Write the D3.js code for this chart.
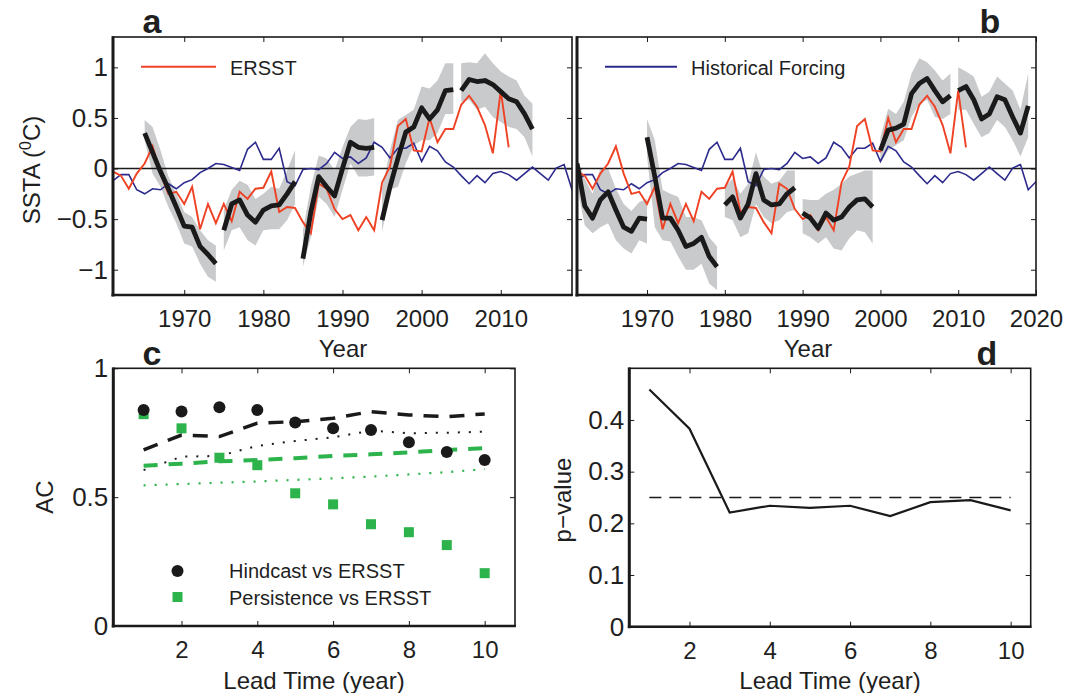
<!DOCTYPE html>
<html><head><meta charset="utf-8">
<script src="https://cdn.jsdelivr.net/npm/d3@7"></script>
<style>
body{margin:0;background:#fff}
svg{display:block}
text{font-family:"Liberation Sans",Arial,Helvetica,sans-serif;fill:#1f1f1f}
</style>
</head><body>
<svg id="fig" width="1066" height="693"></svg>
<script>
// ---------------- DATA ----------------
const firstYear = 1961;
// Historical forcing (blue), 1961-2020
const histForcing = [-0.12,-0.06,-0.06,-0.21,-0.25,-0.2,-0.21,-0.15,-0.2,-0.14,
  -0.11,-0.04,0.0,0.05,0.04,0.01,-0.02,0.19,0.26,0.09,
  0.09,0.2,-0.13,-0.17,-0.01,0.0,-0.01,0.05,0.16,0.1,
  0.115,0.05,0.105,0.26,0.21,0.105,0.2,0.2,0.25,0.07,
  0.22,0.175,0.065,0.015,-0.07,-0.15,-0.07,-0.14,-0.05,-0.03,
  -0.06,-0.115,-0.05,0.015,-0.05,-0.115,0.005,0.04,-0.21,-0.13];
// ERSST (red), 1961-2011
const ersst = [-0.03,-0.07,-0.2,-0.05,0.05,0.22,-0.05,-0.25,-0.23,-0.35,
  -0.18,-0.6,-0.35,-0.54,-0.35,-0.52,-0.23,-0.3,-0.2,-0.19,
  -0.03,-0.43,-0.38,-0.39,-0.53,-0.64,-0.15,-0.2,-0.4,-0.5,
  -0.46,-0.61,-0.48,-0.61,-0.14,0.02,0.42,0.49,0.18,0.17,
  0.5,0.26,0.39,0.39,0.63,0.72,0.61,0.43,0.15,0.77,0.21];

// Panel a hindcast segments (10 years each)
const aStarts = [1965,1975,1985,1995,2005];
const aMean = [
  [0.35,0.16,-0.03,-0.2,-0.38,-0.57,-0.58,-0.77,-0.85,-0.94],
  [-0.61,-0.35,-0.31,-0.46,-0.53,-0.41,-0.37,-0.36,-0.25,-0.13],
  [-0.89,-0.43,-0.08,-0.18,-0.27,0.0,0.26,0.21,0.2,0.21],
  [-0.51,-0.18,0.1,0.36,0.41,0.6,0.49,0.58,0.77,0.78],
  [0.77,0.88,0.86,0.87,0.83,0.76,0.69,0.66,0.54,0.39]];
const aHigh = [
  [0.48,0.41,0.18,-0.08,-0.25,-0.43,-0.48,-0.61,-0.71,-0.76],
  [-0.41,-0.21,-0.12,-0.16,-0.3,-0.25,-0.18,-0.2,-0.02,0.18],
  [-0.61,-0.18,0.13,0.1,-0.02,0.21,0.41,0.49,0.48,0.5],
  [-0.2,0.18,0.48,0.53,0.58,0.81,0.79,0.87,1.04,1.04],
  [1.04,1.05,1.04,1.14,1.04,0.96,0.91,0.87,0.72,0.64]];
const aLow = [
  [0.28,-0.05,-0.18,-0.38,-0.54,-0.74,-0.77,-0.94,-1.07,-1.12],
  [-0.81,-0.61,-0.58,-0.71,-0.76,-0.61,-0.6,-0.6,-0.51,-0.35],
  [-0.97,-0.68,-0.28,-0.35,-0.48,-0.21,0.05,-0.08,-0.08,-0.07],
  [-0.63,-0.21,-0.18,0.05,0.23,0.28,0.28,0.35,0.54,0.54],
  [0.66,0.68,0.58,0.61,0.51,0.46,0.41,0.39,0.31,0.12]];

// Panel b hindcast segments
const bStarts = [1961,1970,1980,1990,2000,2010];
const bMean = [
  [0.05,-0.37,-0.49,-0.31,-0.23,-0.41,-0.58,-0.62,-0.49,-0.5],
  [0.31,-0.08,-0.49,-0.49,-0.61,-0.77,-0.74,-0.68,-0.87,-0.97],
  [-0.36,-0.28,-0.49,-0.35,-0.05,-0.31,-0.36,-0.35,-0.25,-0.19],
  [-0.44,-0.49,-0.59,-0.44,-0.51,-0.48,-0.38,-0.31,-0.3,-0.38],
  [0.18,0.38,0.4,0.44,0.74,0.84,0.89,0.77,0.66,0.72],
  [0.77,0.81,0.68,0.49,0.54,0.71,0.68,0.51,0.35,0.62]];
const bHigh = [
  [0.1,-0.1,-0.25,0.0,0.0,-0.2,-0.35,-0.42,-0.33,-0.3],
  [0.49,0.28,-0.21,-0.25,-0.28,-0.48,-0.48,-0.51,-0.68,-0.77],
  [-0.18,-0.1,-0.25,-0.15,0.16,-0.08,-0.15,-0.12,-0.02,-0.02],
  [-0.3,-0.31,-0.31,-0.25,-0.21,-0.15,-0.08,-0.05,-0.02,-0.02],
  [0.31,0.59,0.54,0.66,0.94,1.09,1.05,0.97,0.87,0.94],
  [1.0,0.96,0.91,0.71,0.76,0.91,0.84,0.77,0.58,0.94]];
const bLow = [
  [-0.18,-0.56,-0.64,-0.58,-0.54,-0.71,-0.79,-0.84,-0.71,-0.74],
  [0.12,-0.58,-0.71,-0.72,-0.87,-1.0,-1.0,-0.94,-1.14,-1.2],
  [-0.48,-0.51,-0.68,-0.64,-0.35,-0.48,-0.54,-0.51,-0.43,-0.41],
  [-0.64,-0.68,-0.74,-0.68,-0.79,-0.81,-0.69,-0.61,-0.63,-0.74],
  [0.05,0.18,0.23,0.28,0.51,0.64,0.68,0.51,0.49,0.54],
  [0.58,0.58,0.44,0.31,0.35,0.48,0.41,0.28,0.12,0.31]];

// Panel c
const leadTimes = [1,2,3,4,5,6,7,8,9,10];
const hindcastAC = [0.838,0.832,0.849,0.838,0.79,0.767,0.761,0.713,0.675,0.644];
const persistAC = [0.822,0.767,0.653,0.624,0.515,0.472,0.395,0.364,0.314,0.205];
const hindSig95 = [0.683,0.741,0.735,0.787,0.793,0.806,0.832,0.819,0.812,0.823];
const hindSig90 = [0.605,0.657,0.66,0.699,0.718,0.732,0.758,0.748,0.75,0.754];
const persSig95 = [0.622,0.63,0.639,0.644,0.651,0.66,0.666,0.674,0.683,0.69];
const persSig90 = [0.546,0.551,0.556,0.561,0.567,0.573,0.58,0.588,0.597,0.609];
// Panel d
const pValues = [0.459,0.383,0.221,0.234,0.23,0.234,0.214,0.241,0.245,0.225];
const pThreshold = 0.25;

// tick labels
const yearTicksA = [1970,1980,1990,2000,2010];
const yearTicksB = [1970,1980,1990,2000,2010,2020];
const sstaTicks = [-1,-0.5,0,0.5,1];
const leadTicks = [2,4,6,8,10];
const acTicks = [0,0.5,1];
const pTicks = [0,0.1,0.2,0.3,0.4];

// ---------------- STYLE ----------------
const RED = "#ef4123", BLUE = "#2c2a8c", BLK = "#1a1a1a", GRAY = "#c9cacc", GREEN = "#2db34b";
const svg = d3.select("#fig");
svg.append("rect").attr("width",1066).attr("height",693).attr("fill","#fff");

const numFmt = d => (d < 0 ? "\u2212" : "") + Math.abs(d);

function frame(g, x, y, xt, yt, showX, showY) {
  const [x0,x1] = x.range(), [y0,y1] = y.range();
  const ax = g.append("g").attr("class","axes");
  const b = ax.append("g").attr("transform",`translate(0,${y0})`)
    .call(d3.axisBottom(x).tickValues(xt).tickSize(-5).tickPadding(15).tickFormat(showX ? d3.format("d") : ""));
  const t = ax.append("g").attr("transform",`translate(0,${y1})`)
    .call(d3.axisTop(x).tickValues(xt).tickSize(-5).tickFormat(""));
  const l = ax.append("g").attr("transform",`translate(${x0},0)`)
    .call(d3.axisLeft(y).tickValues(yt).tickSize(-5).tickPadding(5).tickFormat(showY ? numFmt : ""));
  const r = ax.append("g").attr("transform",`translate(${x1},0)`)
    .call(d3.axisRight(y).tickValues(yt).tickSize(-5).tickFormat(""));
  [b,t,l,r].forEach(a => {
    a.select(".domain").remove();
    a.selectAll("line").attr("stroke",BLK).attr("stroke-width",1);
    a.selectAll("text").attr("font-size",24).attr("fill","#1f1f1f")
      .attr("font-family","'Liberation Sans',Arial,sans-serif");
  });
  l.selectAll("text").attr("font-size",26);
  ax.append("rect").attr("x",x0).attr("y",y1).attr("width",x1-x0).attr("height",y0-y1)
    .attr("fill","none").attr("stroke",BLK).attr("stroke-width",1.6);
  ax.append("line").attr("x1",x0).attr("x2",x0).attr("y1",y1-0.8).attr("y2",y0+1.5)
    .attr("stroke",BLK).attr("stroke-width",3);
  ax.append("line").attr("x1",x0-1.5).attr("x2",x1+0.8).attr("y1",y0).attr("y2",y0)
    .attr("stroke",BLK).attr("stroke-width",2.6);
}

// ---------------- PANELS a & b ----------------
function timePanel(id, xRange, xDomain, starts, mean, hi, lo, xt, showY) {
  const x = d3.scaleLinear().domain(xDomain).range(xRange);
  const y = d3.scaleLinear().domain([-1.25,1.3]).range([295,37]);
  const g = svg.append("g");
  g.append("clipPath").attr("id",id).append("rect")
    .attr("x",xRange[0]).attr("y",37).attr("width",xRange[1]-xRange[0]).attr("height",258);
  const p = g.append("g").attr("clip-path",`url(#${id})`);
  const area = d3.area().x(d => x(d.yr)).y0(d => y(d.lo)).y1(d => y(d.hi));
  const line = d3.line().x(d => x(d.yr)).y(d => y(d.v));
  starts.forEach((s,k) => {
    const seg = mean[k].map((v,i) => ({yr:s+i, v, hi:hi[k][i], lo:lo[k][i]}));
    p.append("path").attr("d",area(seg)).attr("fill",GRAY);
  });
  p.append("line").attr("x1",xRange[0]).attr("x2",xRange[1]).attr("y1",y(0)).attr("y2",y(0))
    .attr("stroke",BLK).attr("stroke-width",1.5);
  p.append("path").attr("d",line(histForcing.map((v,i)=>({yr:firstYear+i,v}))))
    .attr("fill","none").attr("stroke",BLUE).attr("stroke-width",1.6);
  p.append("path").attr("d",line(ersst.map((v,i)=>({yr:firstYear+i,v}))))
    .attr("fill","none").attr("stroke",RED).attr("stroke-width",1.9);
  starts.forEach((s,k) => {
    const seg = mean[k].map((v,i) => ({yr:s+i, v}));
    p.append("path").attr("d",line(seg)).attr("fill","none").attr("stroke",BLK)
      .attr("stroke-width",4.8).attr("stroke-linejoin","round");
  });
  frame(g, x, y, xt, sstaTicks, true, showY);
  return {x,y,g};
}
const A = timePanel("clipA",[113,572],[1961,2019],aStarts,aMean,aHigh,aLow,yearTicksA,true);
const B = timePanel("clipB",[577,1036],[1961,2020],bStarts,bMean,bHigh,bLow,yearTicksB,false);

// legends a & b
svg.append("line").attr("x1",141).attr("x2",216).attr("y1",66.7).attr("y2",66.7).attr("stroke",RED).attr("stroke-width",2);
svg.append("text").attr("x",230).attr("y",75).attr("font-size",20).text("ERSST");
svg.append("line").attr("x1",605).attr("x2",677).attr("y1",66.7).attr("y2",66.7).attr("stroke",BLUE).attr("stroke-width",2);
svg.append("text").attr("x",691).attr("y",75).attr("font-size",20).text("Historical Forcing");

// axis labels a & b
const yl = svg.append("text").attr("transform","translate(40,170) rotate(-90)")
  .attr("text-anchor","middle").attr("font-size",24);
yl.append("tspan").text("SSTA (");
yl.append("tspan").attr("font-size",16).attr("dy",-9).text("0");
yl.append("tspan").attr("dy",9).text("C)");
svg.append("text").attr("x",343).attr("y",357).attr("text-anchor","middle").attr("font-size",24).text("Year");
svg.append("text").attr("x",808).attr("y",357).attr("text-anchor","middle").attr("font-size",24).text("Year");

// ---------------- PANEL c ----------------
{
  const x = d3.scaleLinear().domain([0.2,10.8]).range([113.3,515]);
  const y = d3.scaleLinear().domain([0,1]).range([626,368.3]);
  const g = svg.append("g");
  const line = d3.line().x((d,i) => x(leadTimes[i])).y(d => y(d));
  g.append("path").attr("d",line(persSig90)).attr("fill","none").attr("stroke",GREEN)
    .attr("stroke-width",2.2).attr("stroke-dasharray","2,9");
  g.append("path").attr("d",line(hindSig90)).attr("fill","none").attr("stroke",BLK)
    .attr("stroke-width",2).attr("stroke-dasharray","2,9");
  g.append("path").attr("d",line(persSig95)).attr("fill","none").attr("stroke",GREEN)
    .attr("stroke-width",4).attr("stroke-dasharray","14,11");
  g.append("path").attr("d",line(hindSig95)).attr("fill","none").attr("stroke",BLK)
    .attr("stroke-width",3.5).attr("stroke-dasharray","15,11");
  g.selectAll("rect.pers").data(persistAC).join("rect").attr("class","pers")
    .attr("x",(d,i) => x(leadTimes[i]) - 5).attr("y",d => y(d) - 5)
    .attr("width",10).attr("height",10).attr("fill",GREEN);
  g.selectAll("circle.hind").data(hindcastAC).join("circle").attr("class","hind")
    .attr("cx",(d,i) => x(leadTimes[i])).attr("cy",d => y(d)).attr("r",6).attr("fill",BLK);
  frame(g, x, y, leadTicks, acTicks, true, true);
  // legend
  g.append("circle").attr("cx",177.5).attr("cy",571).attr("r",6).attr("fill",BLK);
  g.append("rect").attr("x",172.5).attr("y",592).attr("width",10).attr("height",10).attr("fill",GREEN);
  g.append("text").attr("x",229).attr("y",578).attr("font-size",20).text("Hindcast vs ERSST");
  g.append("text").attr("x",229).attr("y",605).attr("font-size",20).text("Persistence vs ERSST");
  svg.append("text").attr("transform","translate(53,497) rotate(-90)").attr("text-anchor","middle")
    .attr("font-size",24).text("AC");
  svg.append("text").attr("x",314).attr("y",689).attr("text-anchor","middle").attr("font-size",24).text("Lead Time (year)");
}

// ---------------- PANEL d ----------------
{
  const x = d3.scaleLinear().domain([0.5,10.5]).range([629.3,1030.7]);
  const y = d3.scaleLinear().domain([0,0.5]).range([626.7,368.3]);
  const g = svg.append("g");
  g.append("line").attr("x1",x(1)).attr("x2",x(10)).attr("y1",y(pThreshold)).attr("y2",y(pThreshold))
    .attr("stroke",BLK).attr("stroke-width",1.4).attr("stroke-dasharray","12,8");
  g.append("path").attr("d",d3.line().x((d,i) => x(leadTimes[i])).y(d => y(d))(pValues))
    .attr("fill","none").attr("stroke",BLK).attr("stroke-width",2.2);
  frame(g, x, y, leadTicks, pTicks, true, true);
  svg.append("text").attr("transform","translate(571,500) rotate(-90)").attr("text-anchor","middle")
    .attr("font-size",24).text("p\u2212value");
  svg.append("text").attr("x",830).attr("y",689).attr("text-anchor","middle").attr("font-size",24).text("Lead Time (year)");
}

// panel letters
[["a",152,33],["b",990,33],["c",152,365],["d",987,365]].forEach(([t,x,y]) =>
  svg.append("text").attr("x",x).attr("y",y).attr("text-anchor","middle")
    .attr("font-size",34).attr("font-weight","bold").text(t));
</script>
</body></html>
